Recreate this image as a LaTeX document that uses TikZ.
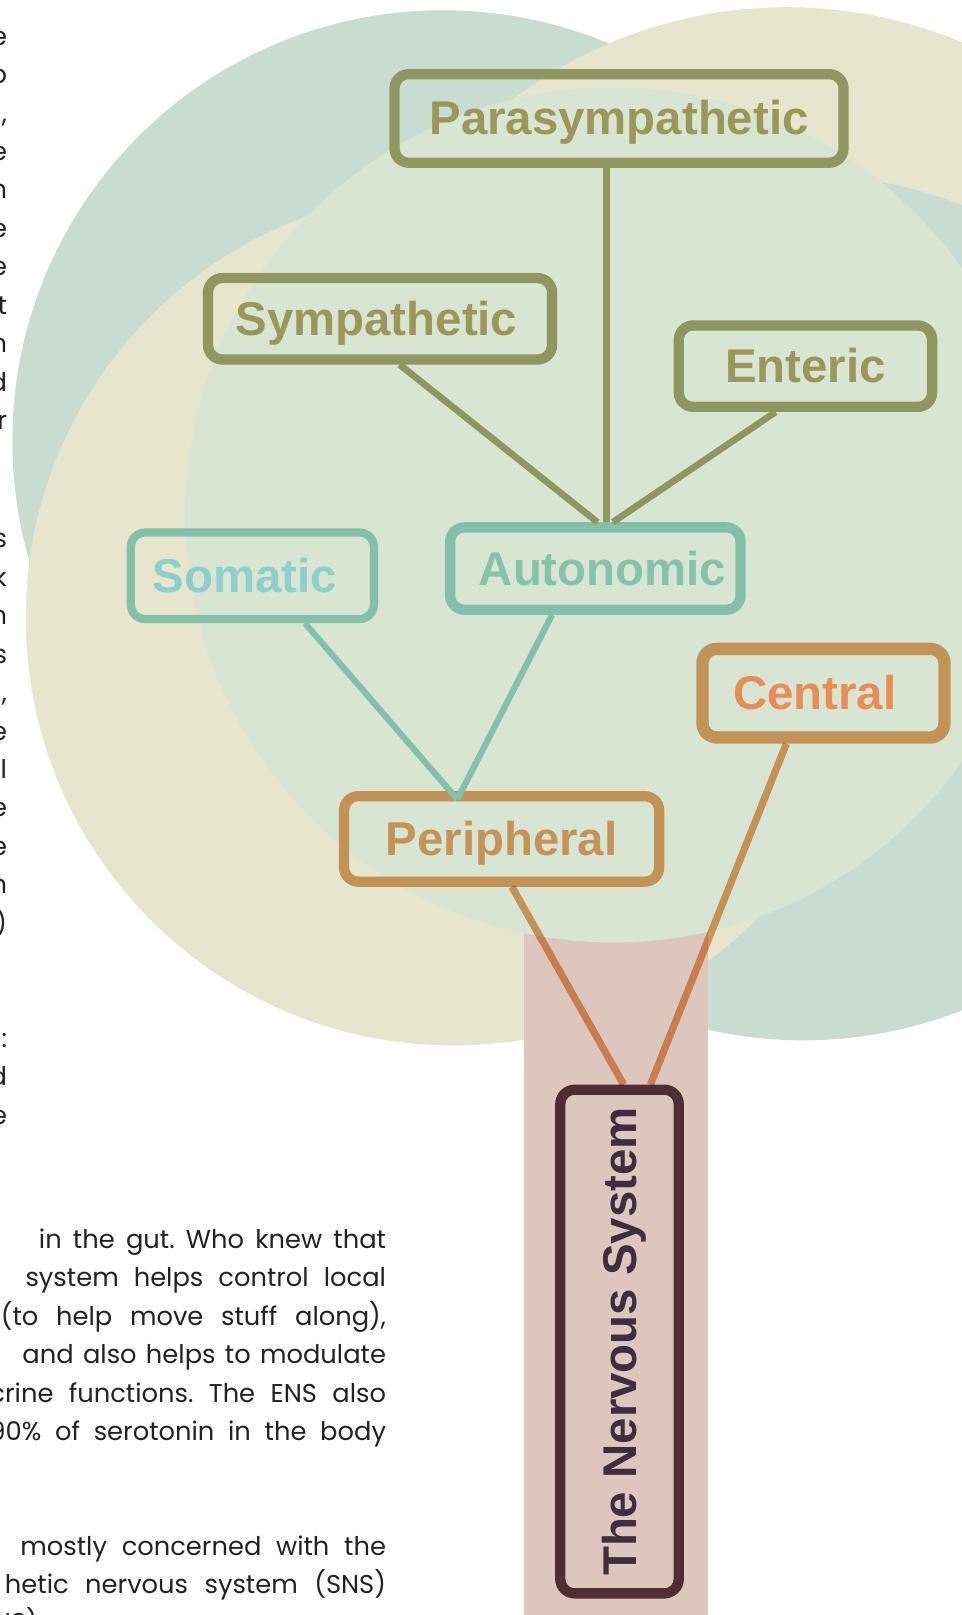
\documentclass[tikz,border=0pt]{standalone}
\usepackage{fontspec}
\newfontfamily\boxfont{Liberation Sans}
\newfontfamily\bodyfont{Poppins}

\definecolor{bluegrey}{HTML}{C9DCD2}
\definecolor{paleyellow}{HTML}{E5E6CD}
\definecolor{palegreen}{HTML}{D9E5D3}
\definecolor{trunkpink}{HTML}{DDC6BE}
\definecolor{oliveline}{HTML}{8F9660}
\definecolor{olivetext}{HTML}{9B975A}
\definecolor{tealline}{HTML}{84C0A9}
\definecolor{tealtext}{HTML}{86C2AA}
\definecolor{somatext}{HTML}{8ECFCB}
\definecolor{orangeline}{HTML}{C39257}
\definecolor{orangelink}{HTML}{E5A369}
\definecolor{peritext}{HTML}{C4935A}
\definecolor{centtext}{HTML}{E88D58}
\definecolor{rootline}{HTML}{4F2F33}
\definecolor{roottext}{HTML}{3E2E3F}
\definecolor{bodytext}{HTML}{222222}

\begin{document}
\begin{tikzpicture}[x=1pt,y=-1pt,
  box/.style={rectangle,rounded corners=14pt,line width=10pt,
    font=\boxfont\bfseries\fontsize{46}{52}\selectfont},
  label box/.style={box,text height=36pt,text depth=4pt},
  olive node/.style={label box,draw=oliveline,text=olivetext},
  teal node/.style={label box,draw=tealline,text=tealtext},
  orange node/.style={label box,draw=orangeline,text=peritext},
  root node/.style={box,draw=rootline,text=roottext},
  olive edge/.style={draw=oliveline,line width=6.5pt},
  teal edge/.style={draw=tealline,line width=6pt},
  orange edge/.style={draw=orangelink,line width=7pt},
  body/.style={font=\bodyfont\fontsize{25}{37}\selectfont\frenchspacing,text=bodytext,inner sep=0pt}]

  \useasboundingbox (0,0) rectangle (934,1568);
  \clip (0,0) rectangle (934,1568);

  % crown and trunk
  \fill[bluegrey] (430,428) circle[radius=418];
  \fill[paleyellow] (764,447) circle[radius=440];
  \fill[bluegrey] (780,590) circle[radius=420];
  \fill[paleyellow] (440,600) circle[radius=415];
  \fill[trunkpink] (509,780) rectangle (687,1568);
  \fill[palegreen] (595,500) circle[radius=415];

  % text columns
  \foreach \c [count=\i] in {e,o,{,},e,n,e,e,t,n,d,r}
    \node[body,anchor=base east] (cola\i) at (7,{44+37.3*(\i-1)}) {\c};
  \foreach \c [count=\i] in {s,k,n,s,{,},e,l,e,e,n,)}
    \node[body,anchor=base east] (colb\i) at (7,{532+37.3*(\i-1)}) {\c};
  \foreach \c [count=\i] in {:,d,e}
    \node[body,anchor=base east] (colc\i) at (7,{1017+37.3*(\i-1)}) {\c};

  \foreach \w/\txt [count=\i] in {337/{in the gut. Who knew that},
      350/{system helps control local},374/{(to help move stuff along),},
      353/{and also helps to modulate},385/{crine functions. The ENS also},
      385/{90\% of serotonin in the body}}
    \node[body,anchor=base east] (gut\i) at (375,{1212+37.3*(\i-1)}) {\makebox[\w pt][s]{\txt}};
  \node[body,anchor=base east] (sns1) at (375,1510) {\makebox[355pt][s]{mostly concerned with the}};
  \node[body,anchor=base east] (sns2) at (375,1547) {\makebox[370pt][s]{hetic nervous system (SNS)}};
  \node[body,anchor=base east] (sns3) at (37,1584) {NS)};

  % the tree
  \node[olive node,minimum width=436pt,minimum height=86pt] (para) at (601,115) {Parasympathetic};
  \node[olive node,minimum width=334pt,minimum height=79pt] (symp) at (369,309.5) {\hspace*{-7pt}Sympathetic};
  \node[olive node,minimum width=246pt,minimum height=79pt] (ent) at (782,355.5) {Enteric};
  \node[teal node,line width=8pt,text=somatext,minimum width=236pt,minimum height=84pt] (soma) at (245,559) {\hspace*{-14pt}Somatic};
  \node[teal node,minimum width=282pt,minimum height=80pt] (auto) at (578,552) {\hspace*{14pt}Autonomic};
  \node[orange node,line width=12pt,text=centtext,minimum width=235pt,minimum height=86pt] (cent) at (799.5,673) {\hspace*{-17pt}Central};
  \node[orange node,minimum width=306pt,minimum height=83pt] (peri) at (487,814.5) {Peripheral};
  \node[root node,minimum width=115pt,minimum height=489pt] (ns) at (601.5,1302.5) {\hspace*{9pt}\rotatebox{90}{The Nervous System}};

  \path[olive edge]
    ([xshift=-12pt]para.south) edge ([xshift=11pt]auto.north)
    ([xshift=19pt]symp.south) edge ([xshift=2pt]auto.north)
    ([xshift=-29pt]ent.south) edge ([xshift=17pt]auto.north);

  \path[teal edge]
    ([xshift=51pt]soma.south) edge ([xshift=-43pt,yshift=-8pt]peri.north)
    ([xshift=-42pt]auto.south) edge ([xshift=-43pt,yshift=-8pt]peri.north);

  \begin{scope}[blend mode=multiply]
    \path[orange edge]
      ([xshift=10pt]peri.south) edge ([xshift=4pt]ns.north)
      ([xshift=-36pt]cent.south) edge ([xshift=30pt]ns.north);
  \end{scope}

\end{tikzpicture}
\end{document}
